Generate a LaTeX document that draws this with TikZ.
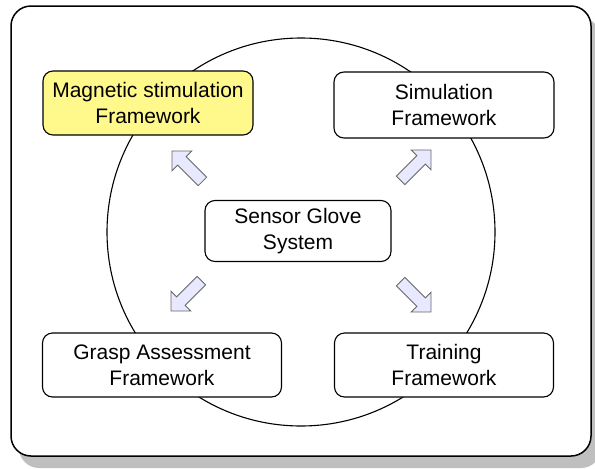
\documentclass[tikz,border=0pt]{standalone}
\usepackage{fontspec}
\setmainfont{Liberation Sans}
\begin{document}
\begin{tikzpicture}[x=1pt,y=-1pt,
  fwbox/.style={draw=black,line width=1.1pt,rounded corners=10pt,fill=white,align=center,
    font=\fontsize{21}{26}\selectfont,inner sep=0pt},
  blockarrow/.style={draw=black!60,fill=blue!9!white,line width=0.8pt,line join=miter}]
\useasboundingbox (0,0) rectangle (595,469);
% shadow and frame
\fill[black!25,rounded corners=20pt] (19,18) rectangle (601,468);
\draw[line width=1.5pt,fill=white,rounded corners=20pt] (11,6) rectangle (591,456);
% circle
\draw[line width=1.1pt] (301,232) circle[radius=194];
% boxes
\node[fwbox,fill=yellow!45!white,minimum width=210pt,minimum height=64pt] (mag) at (148,103) {Magnetic stimulation\\Framework};
\node[fwbox,minimum width=220pt,minimum height=66pt] (sim) at (444,105) {Simulation\\Framework};
\node[fwbox,minimum width=186pt,minimum height=61pt] (sgs) at (298,231) {Sensor Glove\\System};
\node[fwbox,minimum width=239pt,minimum height=64pt] (gaf) at (162,365) {Grasp Assessment\\Framework};
\node[fwbox,minimum width=219pt,minimum height=64pt] (trf) at (444,365) {Training\\Framework};
% block arrows: tip at origin pointing +x
\def\barrow#1#2#3{%
  \path[blockarrow,shift={(#1,#2)},rotate=#3]
    (0,0) -- (-14,-14) -- (-14,-6) -- (-43,-6) -- (-43,6) -- (-14,6) -- (-14,14) -- cycle;}
\barrow{172}{151}{135}
\barrow{431}{150}{45}
\barrow{171}{311}{-135}
\barrow{431}{312}{-45}
\end{tikzpicture}
\end{document}
